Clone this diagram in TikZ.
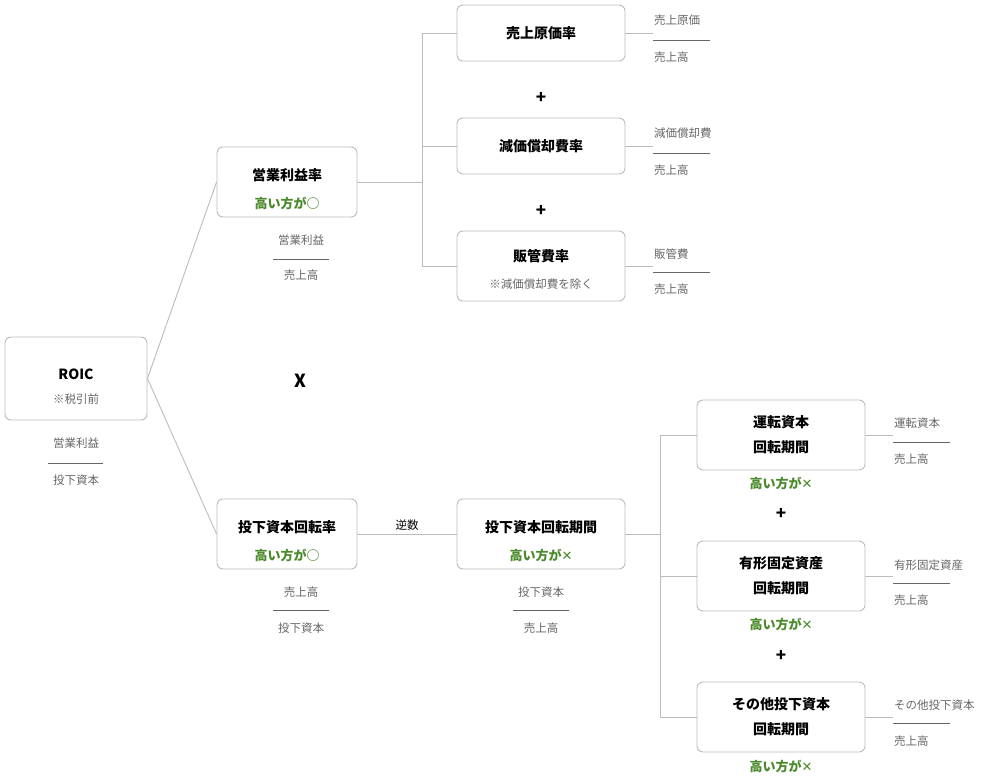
\documentclass[tikz,border=0pt]{standalone}
\usepackage{fontspec}
\setmainfont{Noto Sans CJK JP}
\newfontfamily\djv{DejaVu Sans}
\definecolor{gr}{HTML}{4A8A2A}
\definecolor{ln}{HTML}{BBBBBB}
\definecolor{tx}{HTML}{666666}
\begin{document}
\begin{tikzpicture}[x=1pt,y=-1pt,
 box/.style={draw=ln,line width=0.9pt,rounded corners=6pt,align=center,font=\fontsize{14}{25}\selectfont\bfseries,inner sep=0pt},
 wire/.style={draw=ln,line width=0.9pt},
 small/.style={font=\fontsize{11.5}{14}\selectfont,text=tx,inner sep=0pt},
 good/.style={font=\fontsize{13}{15}\selectfont\bfseries,text=gr,inner sep=0pt},
 op/.style={font=\fontsize{17}{17}\selectfont\bfseries,inner sep=0pt},
 bar/.style={draw=tx,line width=0.9pt}]
\useasboundingbox (0,0) rectangle (1000,776);
% boxes
\node[box,minimum width=142pt,minimum height=83pt] (roic) at (76,378.5) {};
\node[font=\fontsize{14}{14}\selectfont\bfseries] (roict) at (76,374) {ROIC};
\node[small] (roics) at (76,399) {※税引前};
\node[box,minimum width=140pt,minimum height=70pt] (opm) at (287,182) {};
\node[font=\fontsize{14}{14}\selectfont\bfseries] (opmt) at (287,175) {営業利益率};
\node[good] (opmg) at (287,203) {高い方が○};
\node[box,minimum width=168pt,minimum height=56pt] (cogs) at (541,33) {売上原価率};
\node[box,minimum width=168pt,minimum height=56pt] (dep) at (541,146) {減価償却費率};
\node[box,minimum width=168pt,minimum height=70pt] (sga) at (541,266) {};
\node[font=\fontsize{14}{14}\selectfont\bfseries] (sgat) at (541,256) {販管費率};
\node[small] (sgas) at (541,284) {※減価償却費を除く};
\node[op] (p1) at (541,98) {+};
\node[op] (p2) at (541,211) {+};
\node[font=\fontsize{18}{18}\selectfont\bfseries] (x) at (300,381) {X};
\node[box,minimum width=140pt,minimum height=70pt] (ict) at (287,534) {};
\node[font=\fontsize{14}{14}\selectfont\bfseries] (ictt) at (287,527) {投下資本回転率};
\node[good] (ictg) at (287,555) {高い方が○};
\node[box,minimum width=168pt,minimum height=70pt] (icp) at (541,534) {};
\node[font=\fontsize{14}{14}\selectfont\bfseries] (icpt) at (541,527) {投下資本回転期間};
\node[good] (icpg) at (541,555) {高い方が{\djv ✕}};
\node[box,minimum width=168pt,minimum height=70pt] (wc) at (781,435) {運転資本\\回転期間};
\node[good] (wcg) at (781,483) {高い方が{\djv ✕}};
\node[box,minimum width=168pt,minimum height=70pt] (fa) at (781,576) {有形固定資産\\回転期間};
\node[good] (fag) at (781,624) {高い方が{\djv ✕}};
\node[box,minimum width=168pt,minimum height=70pt] (oth) at (781,717) {その他投下資本\\回転期間};
\node[good] (othg) at (781,766) {高い方が{\djv ✕}};
\node[op] (p3) at (781,514) {+};
\node[op] (p4) at (781,656) {+};
% fractions below boxes
\node[small] (rn) at (76,443) {営業利益};
\draw[bar] (48,463) -- (103,463);
\node[small] (rd) at (76,480) {投下資本};
\node[small] (on) at (301,240) {営業利益};
\draw[bar] (273,259) -- (329,259);
\node[small] (od) at (301,275) {売上高};
\node[small] (in) at (301,592) {売上高};
\draw[bar] (273,610) -- (329,610);
\node[small] (id) at (301,628) {投下資本};
\node[small] (pn) at (541,592) {投下資本};
\draw[bar] (513,610) -- (569,610);
\node[small] (pd) at (541,628) {売上高};
% right fractions
\node[small,anchor=west] (c1) at (654,20) {売上原価};
\draw[bar] (653,40) -- (710,40);
\node[small,anchor=west] (c2) at (654,57) {売上高};
\node[small,anchor=west] (d1) at (654,133) {減価償却費};
\draw[bar] (653,153) -- (710,153);
\node[small,anchor=west] (d2) at (654,170) {売上高};
\node[small,anchor=west] (s1) at (654,254) {販管費};
\draw[bar] (653,272) -- (710,272);
\node[small,anchor=west] (s2) at (654,289) {売上高};
\node[small,anchor=west] (w1) at (894,423) {運転資本};
\draw[bar] (893,442) -- (950,442);
\node[small,anchor=west] (w2) at (894,459) {売上高};
\node[small,anchor=west] (f1) at (894,565) {有形固定資産};
\draw[bar] (893,583) -- (950,583);
\node[small,anchor=west] (f2) at (894,600) {売上高};
\node[small,anchor=west] (o1) at (894,705) {その他投下資本};
\draw[bar] (893,723) -- (950,723);
\node[small,anchor=west] (o2) at (894,741) {売上高};
% connectors
\coordinate (j1) at (422,182);
\coordinate (j2) at (660,534);
\draw[wire] (roic.east) -- (opm.west);
\draw[wire] (roic.east) -- (ict.west);
\draw[wire] (opm.east) -- (j1);
\draw[wire] (cogs.west) -| (j1);
\draw[wire] (sga.west) -| (j1);
\draw[wire] (dep.west) -- (dep.west -| j1);
\draw[wire] (ict.east) -- node[above=3pt,font=\fontsize{11.5}{14}\selectfont,inner sep=0pt] (inv) {逆数} (icp.west);
\draw[wire] (icp.east) -- (j2);
\draw[wire] (wc.west) -| (j2);
\draw[wire] (oth.west) -| (j2);
\draw[wire] (fa.west) -- (fa.west -| j2);
\draw[wire] (cogs.east) -- (653,33);
\draw[wire] (dep.east) -- (653,146);
\draw[wire] (sga.east) -- (653,266);
\draw[wire] (wc.east) -- (893,435);
\draw[wire] (fa.east) -- (893,576);
\draw[wire] (oth.east) -- (893,717);
\end{tikzpicture}
\end{document}
